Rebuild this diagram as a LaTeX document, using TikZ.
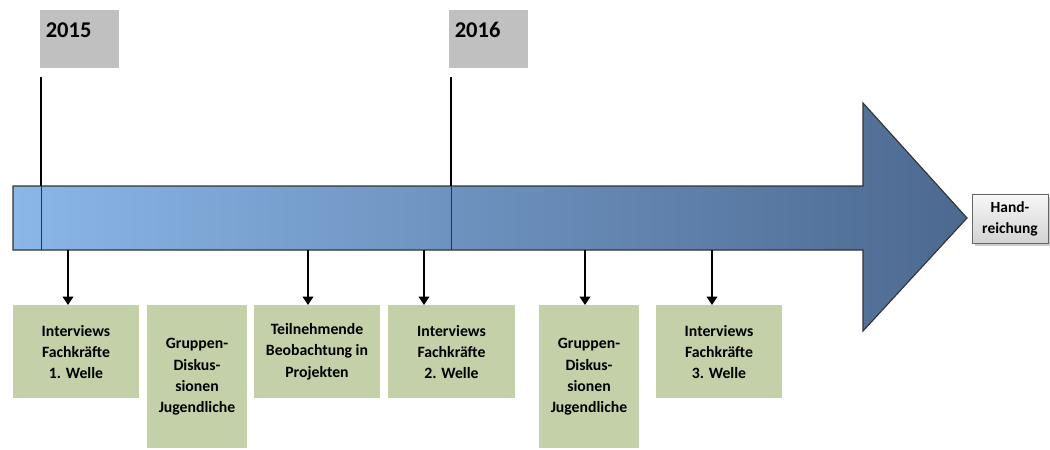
\documentclass[tikz,border=0pt]{standalone}
\usepackage{fontspec}
\setmainfont{Carlito}
\usetikzlibrary{arrows.meta,shadows}
\definecolor{stepgreen}{HTML}{C4D0A8}
\definecolor{yeargray}{HTML}{C0C0C0}
\definecolor{shaftlight}{HTML}{8AB6E8}
\definecolor{shaftdark}{HTML}{4C6990}

\begin{document}
\begin{tikzpicture}[
    x=0.025cm,y=0.025cm,
    yearbox/.style={fill=yeargray,anchor=north west,minimum width=1.975cm,inner xsep=0.12cm,inner ysep=0pt,
      text height=0.675cm,text depth=0.775cm,text width=1.7cm,align=left,font=\fontsize{16}{18}\selectfont\bfseries},
    stepbox/.style={fill=stepgreen,anchor=north,minimum width=3.15cm,minimum height=2.325cm,inner sep=0pt,
      align=center,font=\fontsize{11.2}{15}\selectfont\bfseries},
    tallbox/.style={stepbox,minimum width=2.5cm,minimum height=3.575cm},
    endbox/.style={draw=black!60,top color=gray!6,bottom color=gray!35,drop shadow={opacity=0.4},
      minimum width=1.9cm,minimum height=1.225cm,inner sep=0pt,align=center,font=\fontsize{11}{15}\selectfont\bfseries},
    marker/.style={black,line width=1.8pt},
    down/.style={black,line width=2pt,-{Triangle[width=7.5pt,length=6pt]}}
    ]
    \useasboundingbox (0,0) rectangle (1050,449);
    \draw[black!80,line width=0.8pt,left color=shaftlight,right color=shaftdark]
      (13,199) -- (13,263) -- (863,263) -- (863,346) -- (967,231) -- (863,118) -- (863,199) -- cycle;
    \node[yearbox] (y2015) at (40,439) {2015};
    \node[yearbox] (y2016) at (449,439) {2016};
    \coordinate (m2015) at (41,372);
    \coordinate (m2016) at (451,372);
    \draw[marker] (m2015) -- (41,263);
    \draw[black!80,line width=0.6pt] (41,263) -- (41,199);
    \draw[marker] (m2016) -- (451,263);
    \draw[black!80,line width=0.6pt] (451,263) -- (451,199);
    \node[endbox] (hand) at (1010,230.5) {Hand-\\reichung};
    \node[stepbox] (b1) at (76,144) {Interviews\\Fachkräfte\\1. Welle};
    \node[tallbox] (b2) at (197,144) {Gruppen-\\Diskus-\\sionen\\Jugendliche};
    \node[stepbox] (b3) at (317,144) {Teilnehmende\\Beobachtung in\\Projekten};
    \node[stepbox] (b4) at (451.5,144) {Interviews\\Fachkräfte\\2. Welle};
    \node[tallbox] (b5) at (589,144) {Gruppen-\\Diskus-\\sionen\\Jugendliche};
    \node[stepbox] (b6) at (719,144) {Interviews\\Fachkräfte\\3. Welle};
    \coordinate (s1) at (68,199);
    \coordinate (s3) at (308,199);
    \coordinate (s4) at (424,199);
    \coordinate (s5) at (585,199);
    \coordinate (s6) at (712,199);
    \draw[down] (s1) -- (s1 |- b1.north);
    \draw[down] (s3) -- (s3 |- b3.north);
    \draw[down] (s4) -- (s4 |- b4.north);
    \draw[down] (s5) -- (s5 |- b5.north);
    \draw[down] (s6) -- (s6 |- b6.north);
  \end{tikzpicture}
\end{document}
